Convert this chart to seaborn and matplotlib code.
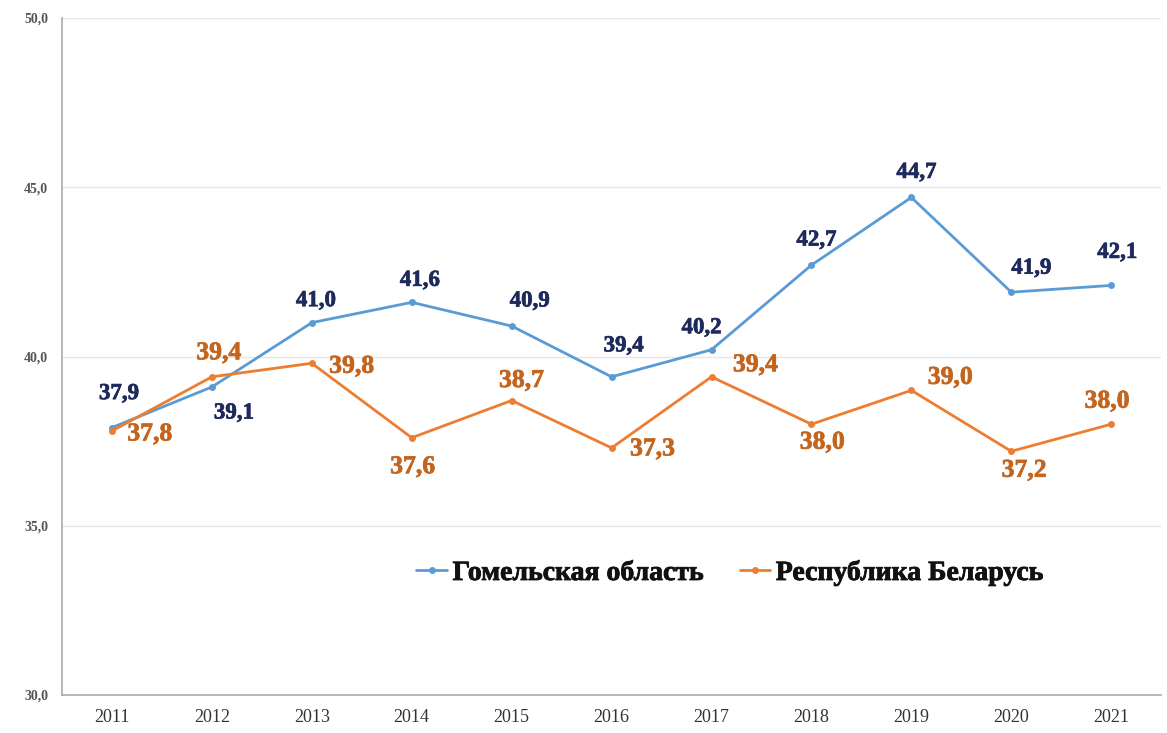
import matplotlib
matplotlib.use("Agg")
import matplotlib.pyplot as plt
import matplotlib.patheffects as pe
import seaborn as sns
import pandas as pd

years = [2011, 2012, 2013, 2014, 2015, 2016, 2017, 2018, 2019, 2020, 2021]
gomel = [37.9, 39.1, 41.0, 41.6, 40.9, 39.4, 40.2, 42.7, 44.7, 41.9, 42.1]
belarus = [37.8, 39.4, 39.8, 37.6, 38.7, 37.3, 39.4, 38.0, 39.0, 37.2, 38.0]
series_names = ["Гомельская область", "Республика Беларусь"]

# label offsets in pixels (dx, dy), picked by eye from the reference
gomel_off = [(7, 34), (22, -26), (4, 22), (8, 22), (18, 25), (12, 31),
             (-10, 22), (5, 25), (5, 25), (20, 24), (6, 33)]
belarus_off = [(38, -3), (7, 24), (40, -3), (1, -29), (10, 20), (41, -1),
               (44, 12), (11, -18), (39, 13), (13, -19), (-4, 23)]

df = pd.DataFrame({
    "year": years * 2,
    "value": gomel + belarus,
    "series": [series_names[0]] * len(years) + [series_names[1]] * len(years),
})

sns.set_style("white")
plt.rcParams["font.family"] = ["Liberation Serif", "DejaVu Serif"]

blue = "#5B9BD5"
orange = "#ED7D31"
blue_txt = "#1F2A5C"
orange_txt = "#C4651E"


def fat(color, w=0.5):
    # a touch heavier, the reference uses a very bold Times
    return [pe.withStroke(linewidth=w, foreground=color)]


fig = plt.figure(figsize=(11.67, 7.33), dpi=100)
ax = fig.add_axes([62 / 1167, 38 / 733, 1 - 62 / 1167 - 0.005, 677 / 733])

sns.lineplot(data=df, x="year", y="value", hue="series",
             palette=[blue, orange], marker="o", markersize=5,
             markeredgewidth=0, linewidth=2, ax=ax)

ax.set_xlim(2010.5, 2021.5)
ax.set_ylim(30, 50)
ax.set_yticks([30, 35, 40, 45, 50])
ax.set_yticklabels([f"{v:.1f}".replace(".", ",") for v in [30, 35, 40, 45, 50]],
                   fontsize=10, color="#555555", fontweight="bold")
ax.set_xticks(years)
ax.set_xticklabels([str(y) for y in years], fontsize=13, color="#333333")
ax.set_xticks([y + 0.5 for y in [2010] + years], minor=True)
ax.tick_params(axis="x", which="major", length=0, pad=10)
ax.tick_params(axis="x", which="minor", length=8, direction="inout", color="#aaaaaa")
ax.tick_params(axis="y", length=8, direction="inout", color="#aaaaaa", pad=6)
ax.set_xlabel("")
ax.set_ylabel("")

ax.grid(axis="y", color="#e6e6e6", linewidth=1)
ax.set_axisbelow(True)
for s in ["top", "right"]:
    ax.spines[s].set_visible(False)
for s in ["left", "bottom"]:
    ax.spines[s].set_color("#aaaaaa")
    ax.spines[s].set_linewidth(1.2)

for x, v, off in zip(years, gomel, gomel_off):
    ax.annotate(f"{v:.1f}".replace(".", ","), (x, v), xytext=off,
                textcoords="offset pixels", ha="center", va="center",
                fontsize=16.5, fontweight="bold", color=blue_txt,
                path_effects=fat(blue_txt))
for x, v, off in zip(years, belarus, belarus_off):
    ax.annotate(f"{v:.1f}".replace(".", ","), (x, v), xytext=off,
                textcoords="offset pixels", ha="center", va="center",
                fontsize=18.5, fontweight="bold", color=orange_txt,
                path_effects=fat(orange_txt))

leg = ax.legend(loc="center", bbox_to_anchor=(730 / 1167, 1 - 573 / 733),
                bbox_transform=fig.transFigure, ncol=2, frameon=False,
                handlelength=1.1, handletextpad=0.2, columnspacing=1.3,
                prop={"family": "Liberation Serif", "weight": "bold", "size": 20})
for t in leg.get_texts():
    t.set_color("#111111")
    t.set_path_effects(fat("#111111", 0.6))

plt.savefig("out.png", dpi=100)
plt.close()
